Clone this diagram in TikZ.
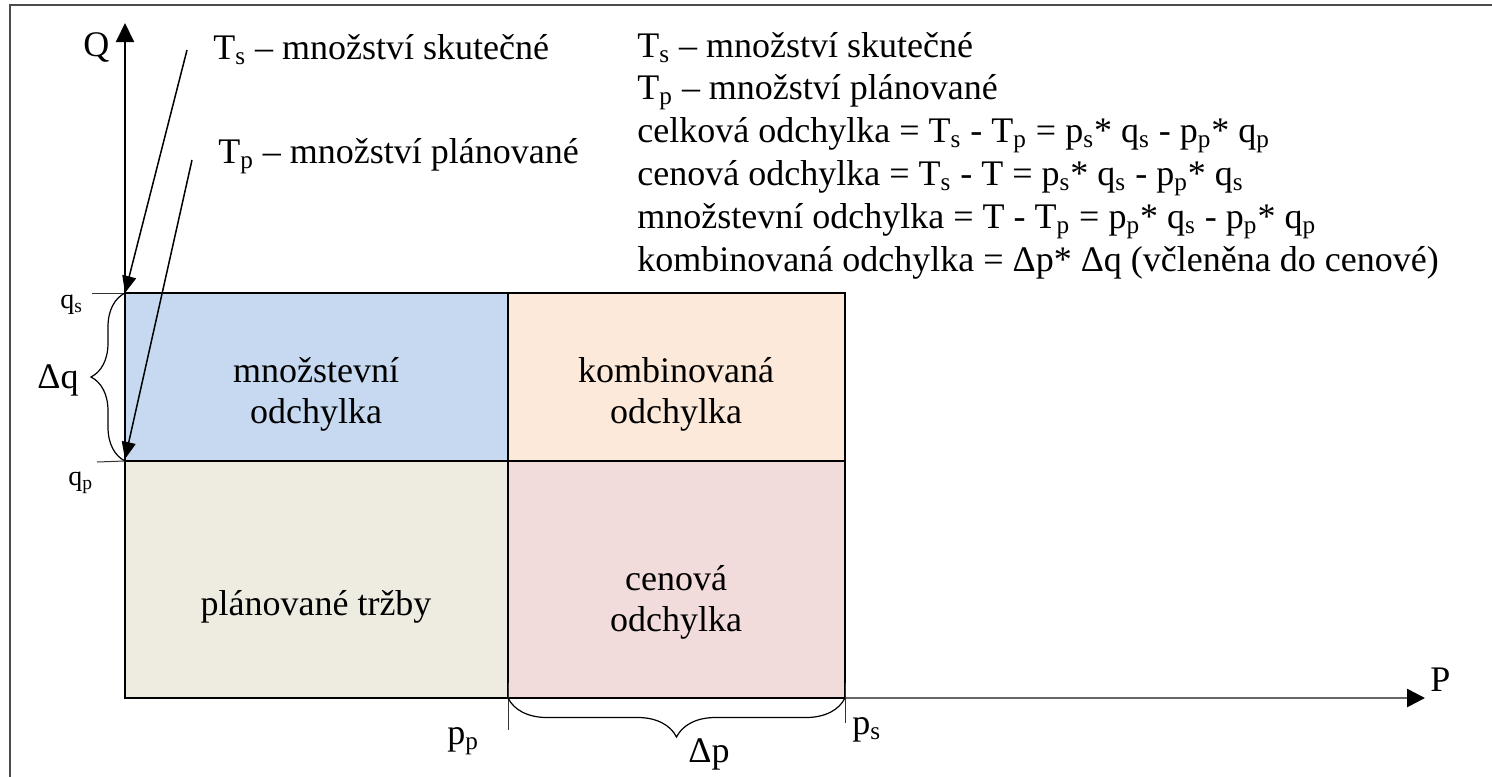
\documentclass[tikz,border=0pt]{standalone}
\usepackage{fontspec}
\setmainfont{Liberation Serif}
\usetikzlibrary{arrows.meta,decorations.pathreplacing}
\newcommand\sbs[1]{\textsubscript{#1}}
\definecolor{cblue}{HTML}{C6D9F1}
\definecolor{corange}{HTML}{FDE9D9}
\definecolor{cbeige}{HTML}{EEECE1}
\definecolor{cpink}{HTML}{F2DCDB}
\begin{document}
\begin{tikzpicture}[x=0.5pt,y=-0.5pt,
  font=\fontsize{18}{21.4}\selectfont,
  txt/.style={inner sep=0pt, anchor=base west},
  small/.style={inner sep=0pt, anchor=base west, font=\fontsize{14}{16}\selectfont},
  lbl/.style={inner sep=0pt, align=center, font=\fontsize{18}{20.5}\selectfont},
  ptr/.style={line width=0.75pt, -{Triangle[length=8.5pt,width=7pt]}},
  yaxis/.style={line width=1pt, -{Triangle[length=9.5pt,width=9pt]}},
  xaxis/.style={line width=1.3pt, black!60, -{Triangle[length=9pt,width=9pt,fill=black,color=black]}},
  cell/.style={line width=0.7pt, draw=black},
  tick/.style={line width=0.5pt, black!80},
  br/.style={decorate, line width=0.6pt}
]
\useasboundingbox (0,0) rectangle (1492,776);
\clip (0,0) rectangle (1492,776);
\draw[line width=1pt, black!70] (10,800) -- (10,5) -- (1500,5);

% key coordinates
\coordinate (O) at (125,698);
\coordinate (QS) at (125,293);
\coordinate (QP) at (125,461);
\coordinate (PP) at (508,698);
\coordinate (PS) at (845,698);
\coordinate (Ytop) at (125,23);
\coordinate (Xend) at (1425,698);

% cells
\filldraw[cell, fill=cblue] (125,293) rectangle (508,461);
\filldraw[cell, fill=corange] (508,293) rectangle (845,461);
\filldraw[cell, fill=cbeige] (125,461) rectangle (508,698);
\filldraw[cell, fill=cpink] (508,461) rectangle (845,698);

\node[lbl] (l1) at (316,394) {množstevní\\odchylka};
\node[lbl] (l2) at (676,394) {kombinovaná\\odchylka};
\node[lbl] (l3) at (316,607) {plánované tržby};
\node[lbl] (l4) at (676,602) {cenová\\odchylka};

% axes
\draw[xaxis] (O) -- (Xend);
\draw[line width=0.9pt] (O) -- (PS);
\draw[yaxis] (O) -- (Ytop);

\node[txt] (Q) at (83,56) {Q};
\node[txt] (P) at (1430,691) {P};

% ticks
\coordinate (qsT) at (92,293);
\coordinate (qpT) at (97,462);
\coordinate (ppT1) at (508,683);
\coordinate (ppT2) at (508,730);
\coordinate (psT1) at (845,683);
\coordinate (psT2) at (845,723);
\draw[tick] (qsT) -- (QS);
\draw[tick] (qpT) -- (QP);
\draw[tick] (ppT1) -- (ppT2);
\draw[tick] (psT1) -- (psT2);

\node[small] (qs) at (60,308) {q\sbs{s}};
\node[small] (qp) at (68,485) {q\sbs{p}};
\node[txt] (pp) at (447,744) {p\sbs{p}};
\node[txt] (ps) at (852,734) {p\sbs{s}};

% braces
\draw[br, decoration={brace, amplitude=17pt}] (QP) -- (QS);
\draw[br, decoration={brace, amplitude=19.5pt}] (PS) -- (PP);
\node[txt] (dq) at (37,388) {Δq};
\node[txt] (dp) at (688,762) {Δp};

% pointers
\coordinate (tsS) at (187,50);
\coordinate (tpS) at (192,160);
\coordinate (tpE) at (125,459);
\draw[ptr] (tsS) -- (QS);
\draw[ptr] (tpS) -- (tpE);

\node[txt] (ts) at (213,59) {T\sbs{s} – množství skutečné};
\node[txt] (tp) at (218,163) {T\sbs{p} – množství plánované};

% right legend
\node[txt] (r1) at (637,57) {T\sbs{s} – množství skutečné};
\node[txt] (r2) at (637,99.8) {T\sbs{p} – množství plánované};
\node[txt] (r3) at (637,142.6) {celková odchylka = T\sbs{s} - T\sbs{p} = p\sbs{s}* q\sbs{s} - p\sbs{p}* q\sbs{p}};
\node[txt] (r4) at (637,185.4) {cenová odchylka = T\sbs{s} - T = p\sbs{s}* q\sbs{s} - p\sbs{p}* q\sbs{s}};
\node[txt] (r5) at (637,228.2) {množstevní odchylka = T - T\sbs{p} = p\sbs{p}* q\sbs{s} - p\sbs{p}* q\sbs{p}};
\node[txt] (r6) at (637,271) {kombinovaná odchylka = Δp* Δq (včleněna do cenové)};
\end{tikzpicture}
\end{document}
